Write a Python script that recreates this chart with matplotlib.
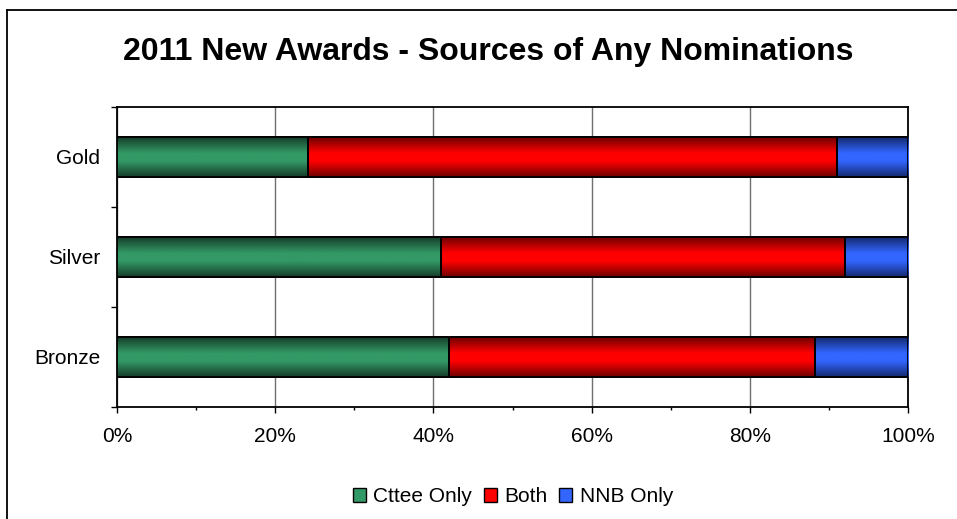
#! usr/bin/env python3

import numpy as np
import matplotlib
matplotlib.use('Agg')
import matplotlib.pyplot as plt
from matplotlib.colors import LinearSegmentedColormap
from matplotlib.lines import Line2D
from matplotlib.patches import Patch

#	share of nominations by source, per award level (percent)
categories = ['Bronze', 'Silver', 'Gold']
cttee_only = [42.0, 41.0, 24.2]
both = [46.2, 51.0, 66.8]
nnb_only = [11.8, 8.0, 9.0]

series_names = ['Cttee Only', 'Both', 'NNB Only']
base_colours = ['#339966', '#ff0000', '#3366ff']
dark_colours = ['#163d2a', '#700000', '#142a70']
x_ticks = [0, 20, 40, 60, 80, 100]

plt.rcParams['font.family'] = ['Liberation Sans', 'DejaVu Sans']

fig = plt.figure(figsize=(9.57, 5.19), dpi=100)
ax = fig.add_axes([117 / 957, 1 - 407 / 519, 791 / 957, 300 / 519])

ypos = np.arange(len(categories))
left = np.zeros(len(categories))
gradient = np.linspace(0, 1, 64).reshape(-1, 1)

for vals, name, base, dark in zip([cttee_only, both, nnb_only], series_names, base_colours, dark_colours):
    bars = ax.barh(ypos, vals, left=left, height=0.4, color=base,
                   edgecolor='black', linewidth=1.3, zorder=3)
    cmap = LinearSegmentedColormap.from_list(name, [(0, dark), (0.4, base), (0.6, base), (1, dark)])
    #	shaded fill clipped to each bar, outline drawn on top
    for b in bars:
        x0, y0 = b.get_x(), b.get_y()
        im = ax.imshow(gradient, cmap=cmap, aspect='auto', zorder=3.5,
                       extent=(x0, x0 + b.get_width(), y0, y0 + b.get_height()))
        im.set_clip_path(b)
        ax.add_patch(plt.Rectangle((x0, y0), b.get_width(), b.get_height(), fill=False,
                                   edgecolor='black', linewidth=1.3, zorder=4))
    left += np.array(vals)

ax.set_xlim(0, 100)
ax.set_ylim(-0.5, 2.5)
ax.set_xticks(x_ticks)
ax.set_xticklabels(['{}%'.format(t) for t in x_ticks])
ax.set_xticks(np.arange(10, 100, 20), minor=True)
ax.set_yticks(ypos)
ax.set_yticklabels(categories)
ax.set_yticks([-0.5, 0.5, 1.5, 2.5], minor=True)

ax.tick_params(axis='x', which='major', length=4.5, width=1, pad=10, labelsize=15, color='black')
ax.tick_params(axis='x', which='minor', length=2.5, width=1, color='black')
ax.tick_params(axis='y', which='major', length=0, pad=12, labelsize=15)
ax.tick_params(axis='y', which='minor', length=4, width=1, color='black')

ax.grid(axis='x', which='major', color='#707070', linewidth=1, zorder=1)
ax.set_axisbelow(True)
for sp in ax.spines.values():
    sp.set_color('black')
    sp.set_linewidth(1.3)

fig.text(488 / 957, 1 - 60 / 519, '2011 New Awards - Sources of Any Nominations',
         ha='center', va='baseline', fontsize=23, fontweight='bold')

handles = [Patch(facecolor=c, edgecolor='black', linewidth=1) for c in base_colours]
fig.legend(handles, series_names, loc='center', bbox_to_anchor=(513 / 957, 1 - 497 / 519),
           ncol=3, frameon=False, fontsize=15, handlelength=0.62, handleheight=0.62,
           handletextpad=0.37, columnspacing=0.55, borderpad=0.2)

#	chart area frame (left and top edges)
fig.add_artist(Line2D([6.5 / 957, 6.5 / 957], [0, 1 - 9.5 / 519], color='black', linewidth=1.3))
fig.add_artist(Line2D([6.5 / 957, 1], [1 - 9.5 / 519, 1 - 9.5 / 519], color='black', linewidth=1.3))

fig.savefig('out.png', dpi=100)
